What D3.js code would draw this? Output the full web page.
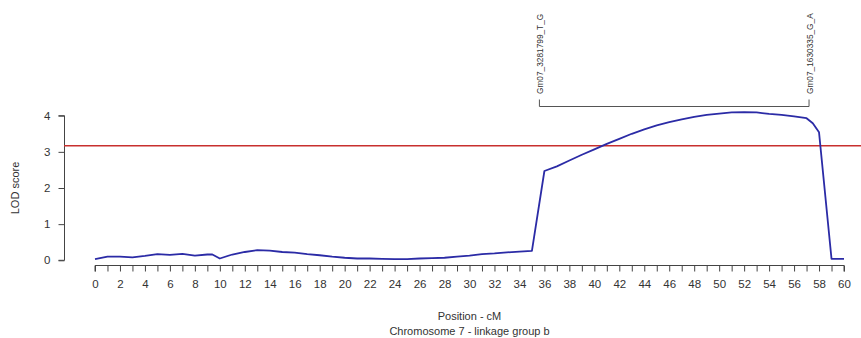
<!DOCTYPE html>
<html>
<head>
<meta charset="utf-8">
<script src="https://cdn.jsdelivr.net/npm/d3@7"></script>
<style>
  html, body { margin: 0; padding: 0; background: #fff; }
  svg text { font-family: "Liberation Sans", Arial, sans-serif; fill: #333; }
</style>
</head>
<body>
<svg id="chart" width="861" height="338"></svg>
<script>
// LOD profile along chromosome 7 (positions in cM)
const positions = [0, 1, 2, 3, 4, 5, 6, 7, 8, 9, 9.4, 10, 11, 12, 13, 14, 15, 16, 17, 18, 19, 20, 21, 22, 23, 24, 25, 26, 27, 28, 29, 30, 31, 32, 33, 34, 35, 36, 37, 38, 39, 40, 41, 42, 43, 44, 45, 46, 47, 48, 49, 50, 51, 52, 53, 54, 55, 56, 57, 57.5, 58, 59, 60];
const lodScores = [0.03, 0.10, 0.10, 0.08, 0.12, 0.17, 0.15, 0.18, 0.13, 0.16, 0.16, 0.05, 0.16, 0.23, 0.28, 0.27, 0.23, 0.21, 0.17, 0.14, 0.10, 0.07, 0.05, 0.05, 0.04, 0.03, 0.03, 0.05, 0.06, 0.07, 0.10, 0.13, 0.17, 0.19, 0.22, 0.24, 0.26, 2.47, 2.60, 2.76, 2.92, 3.07, 3.22, 3.36, 3.50, 3.62, 3.73, 3.82, 3.90, 3.97, 4.02, 4.06, 4.09, 4.10, 4.09, 4.05, 4.02, 3.98, 3.93, 3.79, 3.54, 0.04, 0.04];

// Significance threshold
const threshold = 3.17;

// Flanking markers of the support interval
const markerNames = ["Gm07_3281799_T_G", "Gm07_1630335_G_A"];
const markerPositions = [35.6, 57.2];

const xTicks = d3.range(0, 61, 1);
const yTicks = [0, 1, 2, 3, 4];

const svg = d3.select("#chart");

const x = d3.scaleLinear().domain([0, 60]).range([95, 844]);
const y = d3.scaleLinear().domain([0, 4]).range([260.3, 115.7]);

// x axis: tick every cM, label every 2 cM
const xAxis = d3.axisBottom(x)
  .tickValues(xTicks)
  .tickSize(6)
  .tickPadding(8)
  .tickFormat(d => d % 2 === 0 ? d : "");
const gx = svg.append("g").attr("transform", "translate(0,265.5)").call(xAxis);
gx.select(".domain").attr("stroke", "#444").attr("d", `M${x(0)},6V0H${x(60)}V6`);
gx.selectAll(".tick line").attr("stroke", "#444");
gx.selectAll(".tick text").attr("font-size", 11.5).style("fill", "#333");

// y axis
const yAxis = d3.axisLeft(y).tickValues(yTicks).tickSize(6).tickPadding(8).tickFormat(d3.format("d"));
const gy = svg.append("g").attr("transform", "translate(64.5,0)").call(yAxis);
gy.select(".domain").attr("stroke", "#444").attr("d", `M-6,${y(4)}H0V${y(0)}H-6`);
gy.selectAll(".tick line").attr("stroke", "#444");
gy.selectAll(".tick text").attr("font-size", 11.5).style("fill", "#333");

// axis titles
svg.append("text")
  .attr("transform", "translate(19,188) rotate(-90)")
  .attr("text-anchor", "middle")
  .attr("font-size", 11)
  .text("LOD score");

svg.append("text")
  .attr("x", 469.5).attr("y", 320)
  .attr("text-anchor", "middle")
  .attr("font-size", 11)
  .text("Position - cM");

svg.append("text")
  .attr("x", 469.5).attr("y", 335)
  .attr("text-anchor", "middle")
  .attr("font-size", 11)
  .text("Chromosome 7 - linkage group b");

// threshold line across the plot
svg.append("line")
  .attr("x1", 64).attr("x2", 861)
  .attr("y1", y(threshold)).attr("y2", y(threshold))
  .attr("stroke", "#c8302e")
  .attr("stroke-width", 1.6);

// LOD curve
const line = d3.line()
  .x((d, i) => x(positions[i]))
  .y(d => y(d));

svg.append("path")
  .datum(lodScores)
  .attr("fill", "none")
  .attr("stroke", "#2b2ba6")
  .attr("stroke-width", 1.8)
  .attr("stroke-linejoin", "round")
  .attr("d", line);

// marker bracket
const bracketY = 106.5;
svg.append("path")
  .attr("fill", "none")
  .attr("stroke", "#555")
  .attr("stroke-width", 1)
  .attr("d", `M${x(markerPositions[0])},${bracketY - 7}V${bracketY}H${x(markerPositions[1])}V${bracketY - 7}`);

markerPositions.forEach((p, i) => {
  svg.append("text")
    .attr("transform", `translate(${x(p) + 3.5},94) rotate(-90)`)
    .attr("text-anchor", "start")
    .attr("font-size", 8.3)
    .text(markerNames[i]);
});
</script>
</body>
</html>
